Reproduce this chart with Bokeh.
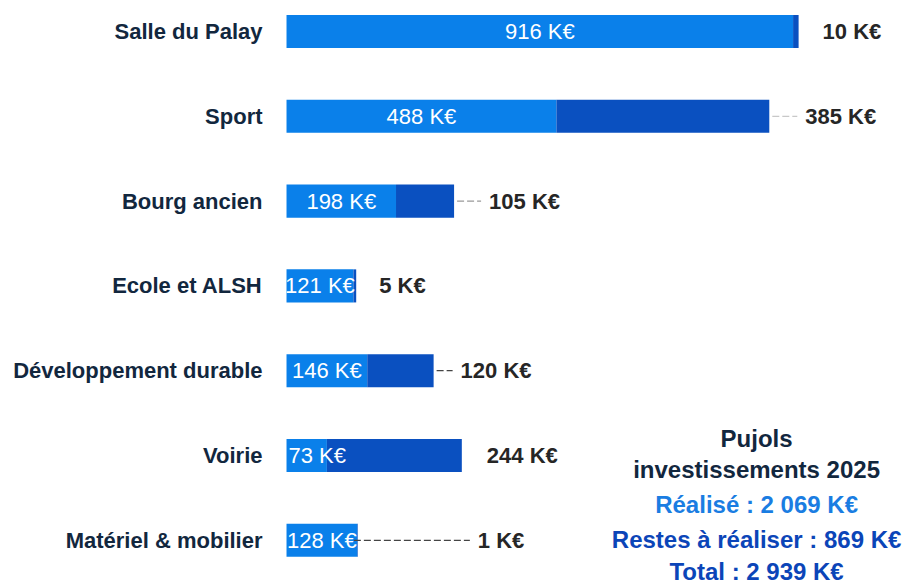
from bokeh.plotting import figure
from bokeh.models import Range1d, ColumnDataSource, Label
from bokeh.core.properties import value
from bokeh.embed import file_html
from bokeh.resources import INLINE

# ---- data ----
categories = ["Salle du Palay", "Sport", "Bourg ancien", "Ecole et ALSH",
              "Développement durable", "Voirie", "Matériel & mobilier"]
realise = [916, 488, 198, 121, 146, 73, 128]
restes = [10, 385, 105, 5, 120, 244, 1]
summary_lines = ["Pujols", "investissements 2025", "Réalisé : 2 069 K€",
                 "Restes à réaliser : 869 K€", "Total : 2 939 K€"]

# ---- style ----
LIGHT = "#0a80ea"
DARK = "#0a50c0"
NAVY = "#12273e"
GRAY = "#262626"
FONT = "Liberation Sans"
W, H = 906, 585
X0, X1 = -517.2, 1121.1
PX_PER_UNIT = W / (X1 - X0)
right_gap_px = [24, 36, 35, 23, 27, 25, 120]
leader = [False, True, True, False, True, False, True]
leader_color = ["#999999", "#c8c8c8", "#999999", "#555555", "#444444", "#555555", "#444444"]
inside_left = [False, False, False, False, False, True, False]

n = len(categories)
ys = list(range(n))
totals = [a + b for a, b in zip(realise, restes)]

p = figure(width=W, height=H, x_range=Range1d(X0, X1),
           y_range=Range1d(6.533, -0.3656), output_backend="svg",
           toolbar_location=None, x_axis_location=None, y_axis_location=None,
           min_border=0)
p.grid.visible = False
p.outline_line_color = None
p.background_fill_color = "white"
p.border_fill_color = "white"

src = ColumnDataSource(dict(y=ys, cat=categories, realise=realise, restes=restes,
                            total=totals))

p.hbar(y="y", left=0, right="realise", height=0.39, source=src,
       fill_color=LIGHT, line_color=None)
p.hbar(y="y", left="realise", right="total", height=0.39, source=src,
       fill_color=DARK, line_color=None)

# leader lines
lx0, lx1, ly, lc = [], [], [], []
for i in range(n):
    if leader[i]:
        start = totals[i] + (3 if restes[i] > 2 else -4) / PX_PER_UNIT
        lx0.append(start)
        lx1.append(totals[i] + (right_gap_px[i] - 8) / PX_PER_UNIT)
        ly.append(ys[i])
        lc.append(leader_color[i])
p.segment(x0=lx0, y0=ly, x1=lx1, y1=ly, line_color=lc, line_width=1.2,
          line_dash="7 3")

# category labels
p.text(x=0, y="y", text="cat", source=src, x_offset=-24, text_align="right",
       text_baseline="middle", text_font=value(FONT), text_font_style="bold",
       text_font_size="22px", text_color=NAVY)

# inside labels
c_idx = [i for i in range(n) if not inside_left[i]]
l_idx = [i for i in range(n) if inside_left[i]]
p.text(x=[realise[i] / 2 for i in c_idx], y=[ys[i] for i in c_idx],
       text=[f"{realise[i]} K€" for i in c_idx], text_align="center",
       text_baseline="middle", text_font=value(FONT), text_font_size="22px",
       text_color="white")
p.text(x=[0 for i in l_idx], y=[ys[i] for i in l_idx],
       text=[f"{realise[i]} K€" for i in l_idx], x_offset=2, text_align="left",
       text_baseline="middle", text_font=value(FONT), text_font_size="22px",
       text_color="white")

# outside labels
for i in range(n):
    p.text(x=[totals[i]], y=[ys[i]], text=[f"{restes[i]} K€"],
           x_offset=right_gap_px[i], text_align="left", text_baseline="middle",
           text_font=value(FONT), text_font_style="bold",
           text_font_size="22px", text_color=GRAY)

# summary block
sum_x = 850
sum_y = [4.80, 5.165, 5.575, 5.985, 6.37]
sum_col = [NAVY, NAVY, "#1a7de2", "#0b45b8", "#0b45b8"]
for t, yy, c in zip(summary_lines, sum_y, sum_col):
    p.add_layout(Label(x=sum_x, y=yy, text=t, text_align="center",
                       text_baseline="middle", text_font=FONT,
                       text_font_style="bold", text_font_size="24px",
                       text_color=c))

open("out.html", "w").write(file_html(p, INLINE))
